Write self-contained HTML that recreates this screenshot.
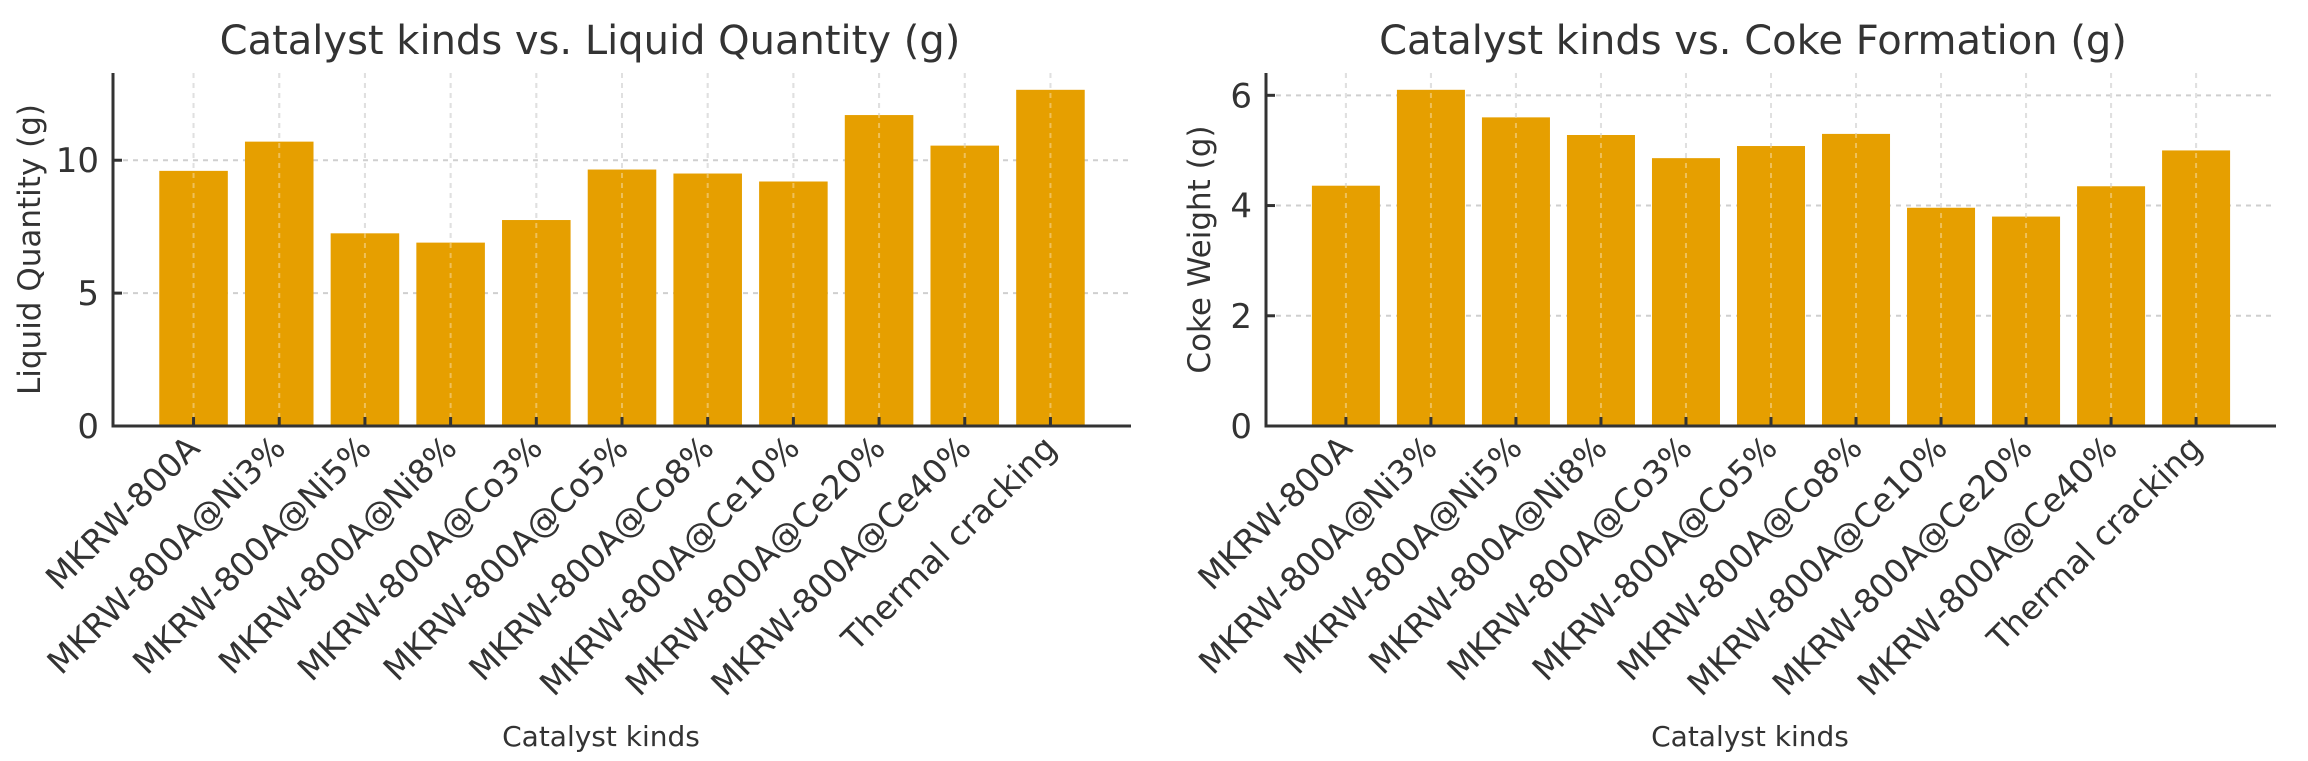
<!DOCTYPE html>
<html><head><meta charset="utf-8">
<style>
html,body{margin:0;padding:0;background:#fff;}
svg{display:block;font-family:"DejaVu Sans","Liberation Sans",sans-serif;}
</style></head>
<body>
<svg id="fig" width="2308" height="761" viewBox="0 0 2308 761" xmlns="http://www.w3.org/2000/svg"></svg>
<script>
const categories = ["MKRW-800A","MKRW-800A@Ni3%","MKRW-800A@Ni5%","MKRW-800A@Ni8%","MKRW-800A@Co3%","MKRW-800A@Co5%","MKRW-800A@Co8%","MKRW-800A@Ce10%","MKRW-800A@Ce20%","MKRW-800A@Ce40%","Thermal cracking"];
const liquidValues = [9.6,10.7,7.25,6.9,7.75,9.65,9.5,9.2,11.7,10.55,12.65];
const cokeValues = [4.36,6.1,5.6,5.28,4.86,5.08,5.3,3.96,3.8,4.35,5.0];
const liquidTicks = [0,5,10];
const cokeTicks = [0,2,4,6];

const NS="http://www.w3.org/2000/svg";
const svg=document.getElementById('fig');
function mk(tag,attrs,parent){const e=document.createElementNS(NS,tag);for(const k in attrs)e.setAttribute(k,attrs[k]);(parent||svg).appendChild(e);return e;}

function drawChart(opt){
  const g=mk('g',{});
  
  
  const L=opt.left,R=opt.right,B=426,T=73;
  const n=categories.length;
  const xmin=-0.94,xmax=n-1+0.94;
  const xs=v=>L+(v-xmin)/(xmax-xmin)*(R-L);
  const ymax=Math.max(...opt.values)*1.05;
  const ys=v=>B-v/ymax*(B-T);
  const step=xs(1)-xs(0);
  opt.ticks.forEach(t=>{
    const l=mk('line',{x1:L,x2:R,y1:ys(t),y2:ys(t),stroke:'#cfcfcf','stroke-width':2,'stroke-dasharray':'5,5'},g);
    
    
  });
  categories.forEach((c,i)=>{
    const l=mk('line',{x1:xs(i),x2:xs(i),y1:T,y2:B,stroke:'#cfcfcf','stroke-width':2,'stroke-dasharray':'5,5'},g);
    
    
  });
  opt.values.forEach((v,i)=>{
    const w=step*0.8;
    const r=mk('rect',{x:xs(i)-w/2,y:ys(v),width:w,height:B-ys(v),fill:'#E69F00'},g);
    
    
  });
  categories.forEach((c,i)=>{
    mk('line',{x1:xs(i),x2:xs(i),y1:T,y2:B,stroke:'#ffffff','stroke-opacity':0.35,'stroke-width':2,'stroke-dasharray':'5,5'},g);
  });
  const sp=mk('path',{d:`M${L},${T} L${L},${B} L${R},${B}`,fill:'none',stroke:'#333','stroke-width':3},g);
  
  
  opt.ticks.forEach(t=>{
    mk('line',{x1:L,x2:L+9,y1:ys(t),y2:ys(t),stroke:'#333','stroke-width':3},g);
    const tx=mk('text',{x:L-14,y:ys(t)+12,'text-anchor':'end','font-size':34,fill:'#333'},g);
    tx.textContent=t;
    
    
  });
  categories.forEach((c,i)=>{
    mk('line',{x1:xs(i),x2:xs(i),y1:B,y2:B-9,stroke:'#333','stroke-width':3},g);
    const x=xs(i)+8,y=B+24;
    const tx=mk('text',{x:x,y:y,'text-anchor':'end','font-size':33,fill:'#333',transform:`rotate(-45 ${x} ${y})`},g);
    tx.textContent=c;
    
    
  });
  const title=mk('text',{x:(L+R)/2+opt.tdx,y:54,'text-anchor':'middle','font-size':40,fill:'#333'},g);
  title.textContent=opt.title;
  
  
  const xl=mk('text',{x:(L+R)/2-21,y:746,'text-anchor':'middle','font-size':28,fill:'#333'},g);
  xl.textContent='Catalyst kinds';
  
  
  const yx=opt.ylx,yy=(T+B)/2;
  const yl=mk('text',{x:yx,y:yy,'text-anchor':'middle','font-size':31,fill:'#333',transform:`rotate(-90 ${yx} ${yy})`},g);
  yl.textContent=opt.ylabel;
  
  
}
drawChart({name:'liquid-quantity-chart',left:113,right:1131,values:liquidValues,ticks:liquidTicks,title:'Catalyst kinds vs. Liquid Quantity (g)',ylabel:'Liquid Quantity (g)',ylx:40,tdx:-32});
drawChart({name:'coke-formation-chart',left:1266,right:2276,values:cokeValues,ticks:cokeTicks,title:'Catalyst kinds vs. Coke Formation (g)',ylabel:'Coke Weight (g)',ylx:1210,tdx:-18});
</script>
</body></html>
